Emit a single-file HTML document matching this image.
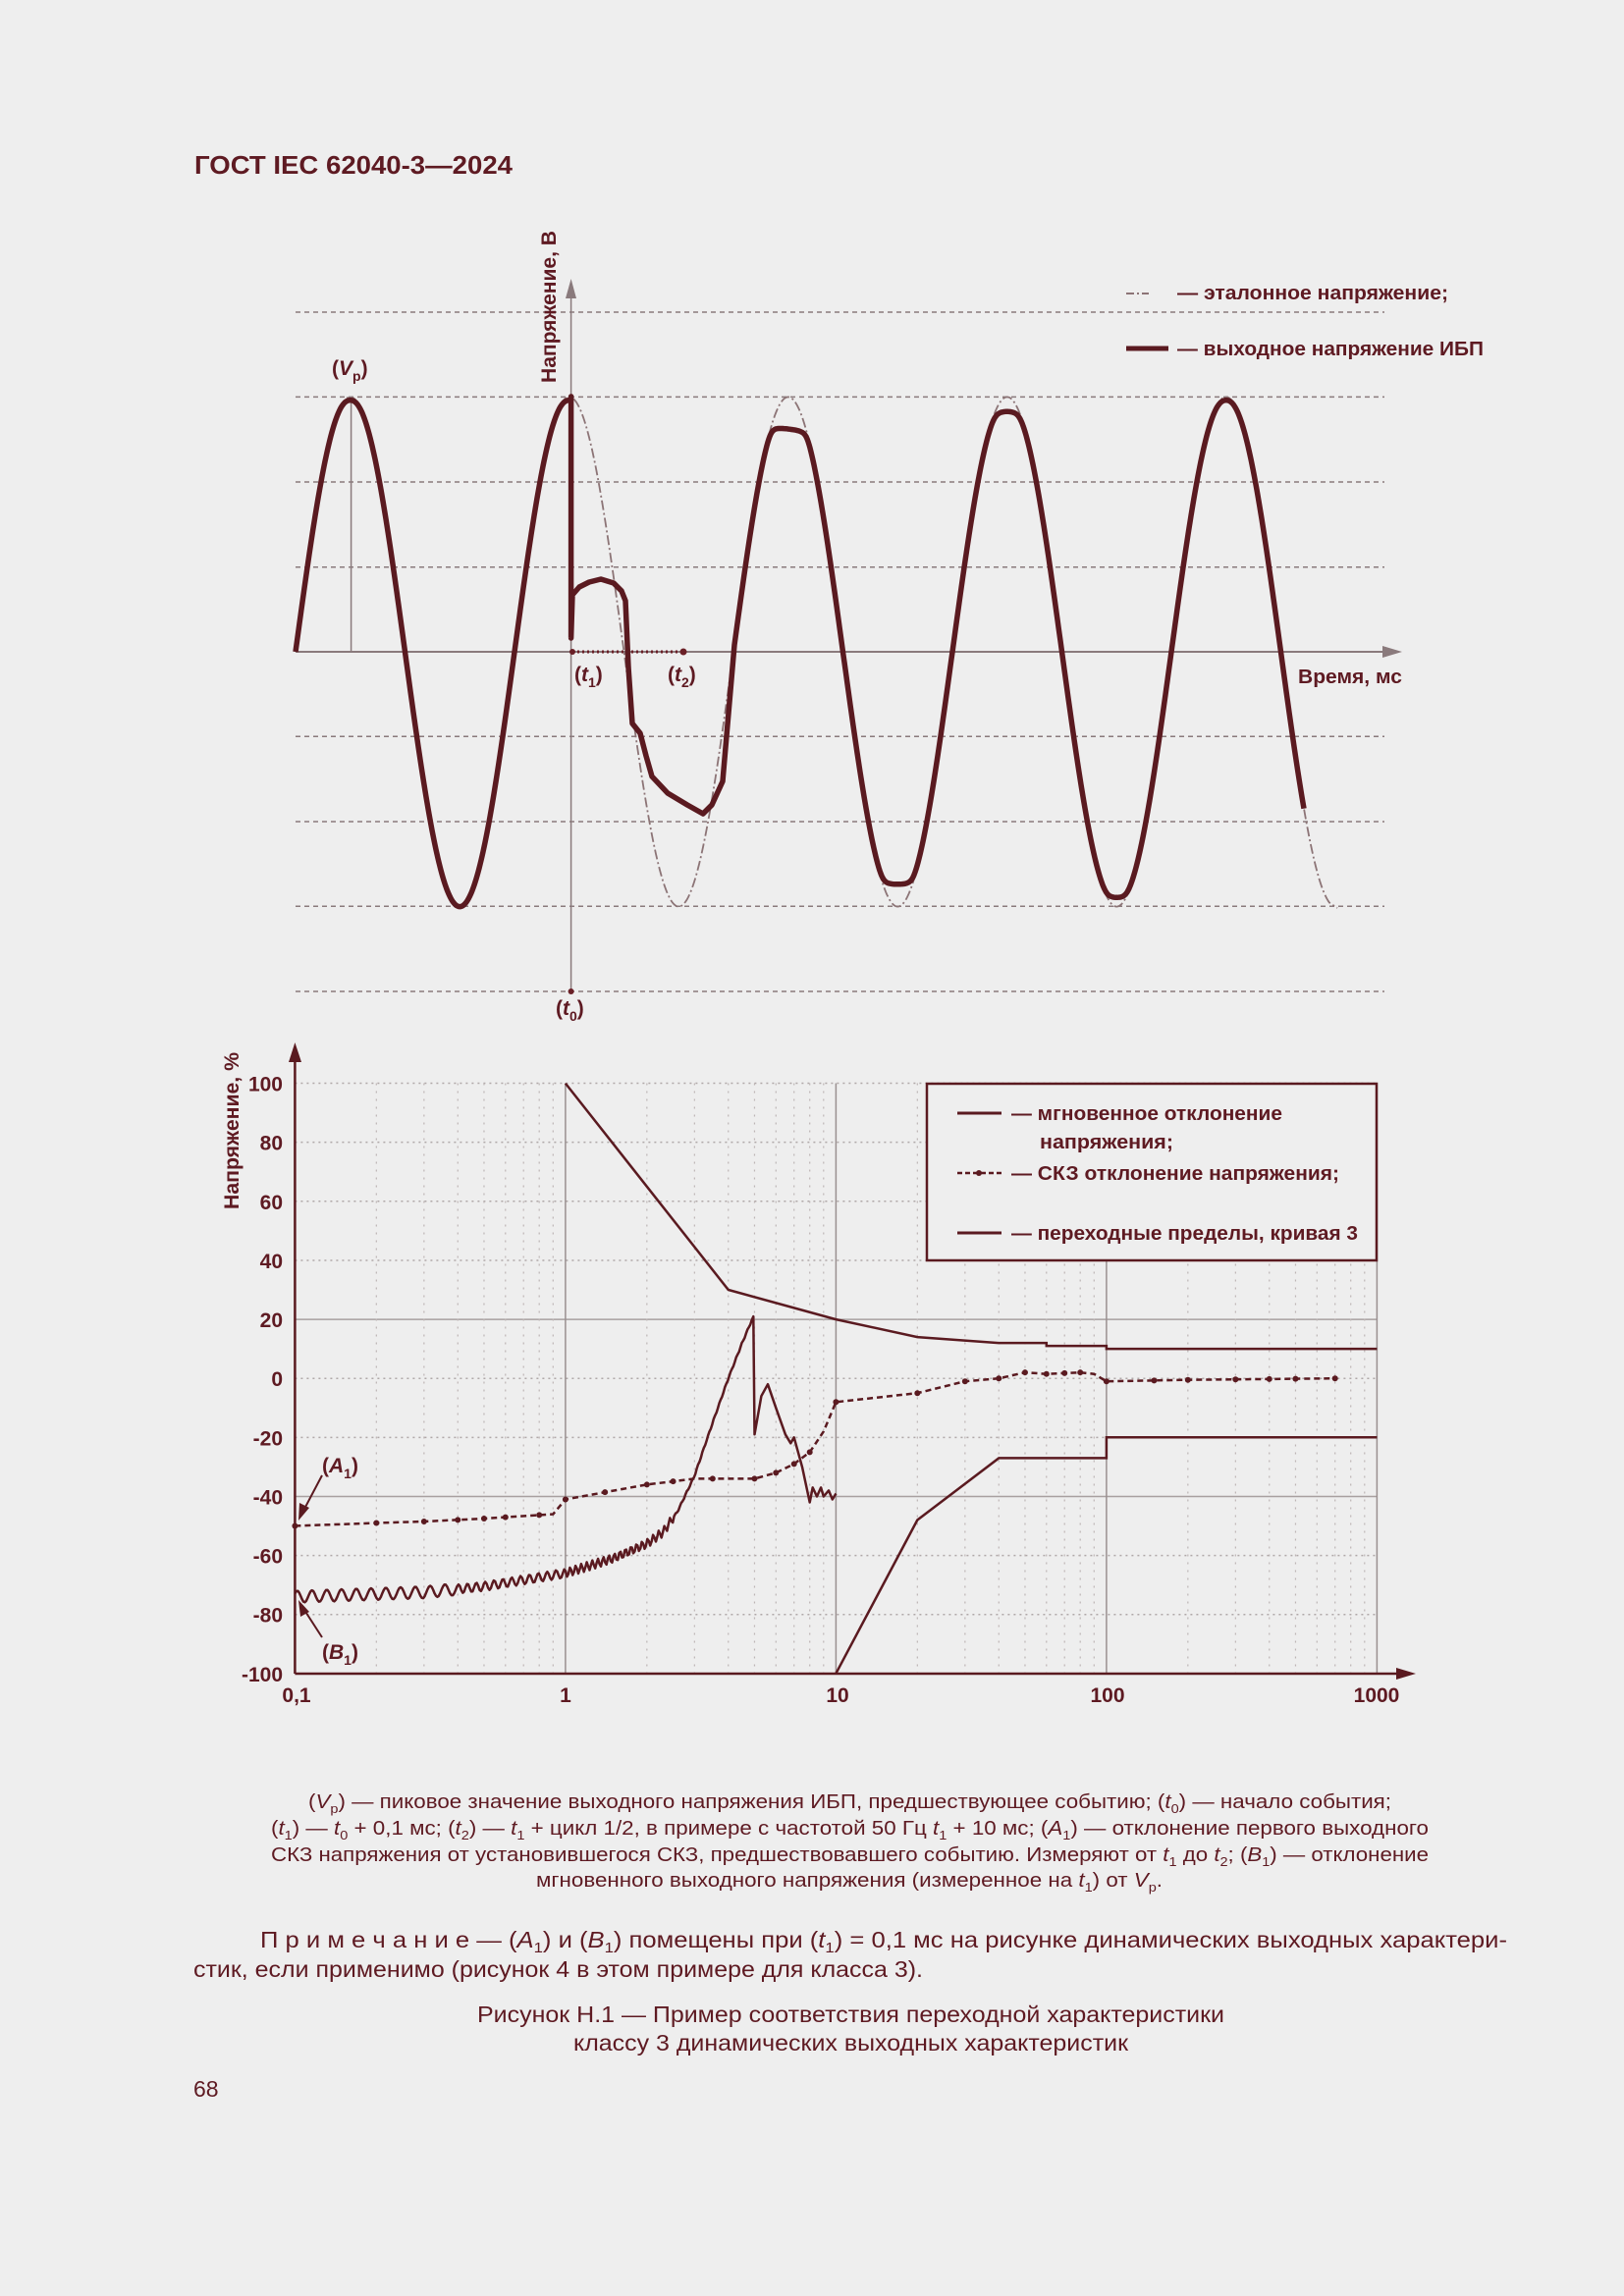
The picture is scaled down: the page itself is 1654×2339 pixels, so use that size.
<!DOCTYPE html>
<html><head><meta charset="utf-8"><style>
html,body{margin:0;padding:0;background:#eeeeee;}
svg{display:block;}
text{font-family:"Liberation Sans",sans-serif;fill:#5e1a22;}
</style></head><body>
<svg id="s" width="1654" height="2339" viewBox="0 0 1654 2339" xmlns="http://www.w3.org/2000/svg">
<rect width="1654" height="2339" fill="#eeeeee"/>
<text x="198" y="177" font-size="26" font-weight="bold" textLength="324" lengthAdjust="spacingAndGlyphs">ГОСТ IEC 62040-3—2024</text>

<!-- TOP CHART -->
<g id="topgrid" stroke="#8a7a7c" stroke-width="1.5" stroke-dasharray="5,4"></g>
<line x1="301" y1="664" x2="1420" y2="664" stroke="#8a7a7c" stroke-width="2"/>
<polygon points="1428,664 1408,658 1408,670" fill="#8a7a7c"/>
<line x1="581.6" y1="300" x2="581.6" y2="1010" stroke="#8a7a7c" stroke-width="1.5"/>
<polygon points="581.6,284 576,304 587,304" fill="#8a7a7c"/>
<line x1="357.6" y1="404" x2="357.6" y2="664" stroke="#8a7a7c" stroke-width="1.5"/>
<line x1="583" y1="664" x2="696" y2="664" stroke="#6a1f26" stroke-width="3" stroke-dasharray="2,3"/>
<circle cx="583" cy="664" r="3" fill="#6a1f26"/><circle cx="696" cy="664" r="3.5" fill="#6a1f26"/>
<circle cx="581.6" cy="1010" r="3" fill="#6a1f26"/>
<path id="ref" fill="none" stroke="#8c7476" stroke-width="1.8" stroke-dasharray="10,3,2,3"/>
<path id="out" fill="none" stroke="#5a1a20" stroke-width="5.5" stroke-linejoin="round"/>
<text x="338" y="382" font-size="21" font-weight="bold">(<tspan font-style="italic">V</tspan><tspan font-size="14" dy="6">p</tspan><tspan dy="-6">)</tspan></text>
<text x="585" y="694" font-size="21" font-weight="bold">(<tspan font-style="italic">t</tspan><tspan font-size="14" dy="6">1</tspan><tspan dy="-6">)</tspan></text>
<text x="680" y="694" font-size="21" font-weight="bold">(<tspan font-style="italic">t</tspan><tspan font-size="14" dy="6">2</tspan><tspan dy="-6">)</tspan></text>
<text x="566" y="1034" font-size="21" font-weight="bold">(<tspan font-style="italic">t</tspan><tspan font-size="14" dy="6">0</tspan><tspan dy="-6">)</tspan></text>
<text x="1322" y="696" font-size="20" font-weight="bold" textLength="106" lengthAdjust="spacingAndGlyphs">Время, мс</text>
<text transform="translate(566,390) rotate(-90)" font-size="21" font-weight="bold" textLength="155" lengthAdjust="spacingAndGlyphs">Напряжение, В</text>
<line x1="1147" y1="299" x2="1170" y2="299" stroke="#8c7476" stroke-width="2" stroke-dasharray="8,3,2,3"/>
<text x="1199" y="305" font-size="20" font-weight="bold" textLength="276" lengthAdjust="spacingAndGlyphs">— эталонное напряжение;</text>
<line x1="1147" y1="355" x2="1190" y2="355" stroke="#5a1a20" stroke-width="5"/>
<text x="1199" y="362" font-size="20" font-weight="bold" textLength="312" lengthAdjust="spacingAndGlyphs">— выходное напряжение ИБП</text>

<!-- BOTTOM CHART -->
<g id="botgrid"></g>
<line x1="300.4" y1="1075" x2="300.4" y2="1705" stroke="#5a1a20" stroke-width="2.5"/>
<polygon points="300.4,1062 294,1082 307,1082" fill="#5a1a20"/>
<line x1="300.4" y1="1705" x2="1425" y2="1705" stroke="#5a1a20" stroke-width="2.5"/>
<polygon points="1442,1705 1422,1699 1422,1711" fill="#5a1a20"/>
<path id="upper" fill="none" stroke="#5a1a20" stroke-width="2.5"/>
<path id="lower" fill="none" stroke="#5a1a20" stroke-width="2.5"/>
<path id="rms" fill="none" stroke="#5a1a20" stroke-width="2.5" stroke-dasharray="6,4"/>
<g id="rmsdots" fill="#5a1a20"></g>
<path id="inst" fill="none" stroke="#5a1a20" stroke-width="2.5" stroke-linejoin="round"/>
<g id="ylabels" font-size="21" font-weight="bold" text-anchor="end"></g>
<g font-size="21" font-weight="bold" text-anchor="middle">
<text x="302" y="1734">0,1</text><text x="576" y="1734">1</text><text x="853" y="1734">10</text><text x="1128" y="1734">100</text><text x="1402" y="1734">1000</text>
</g>
<text transform="translate(243,1232) rotate(-90)" font-size="21" font-weight="bold" textLength="160" lengthAdjust="spacingAndGlyphs">Напряжение, %</text>
<rect x="944" y="1104" width="458" height="180" fill="#eeeeee" stroke="#5a1a20" stroke-width="2.5"/>
<line x1="975" y1="1134" x2="1020" y2="1134" stroke="#5a1a20" stroke-width="3"/>
<text x="1030" y="1141" font-size="20" font-weight="bold" textLength="276" lengthAdjust="spacingAndGlyphs">— мгновенное отклонение</text>
<text x="1059" y="1170" font-size="20" font-weight="bold" textLength="136" lengthAdjust="spacingAndGlyphs">напряжения;</text>
<line x1="975" y1="1195" x2="1020" y2="1195" stroke="#5a1a20" stroke-width="2.5" stroke-dasharray="5,3"/>
<circle cx="997" cy="1195" r="3" fill="#5a1a20"/>
<text x="1030" y="1202" font-size="20" font-weight="bold" textLength="334" lengthAdjust="spacingAndGlyphs">— СКЗ отклонение напряжения;</text>
<line x1="975" y1="1256" x2="1020" y2="1256" stroke="#5a1a20" stroke-width="3"/>
<text x="1030" y="1263" font-size="20" font-weight="bold" textLength="353" lengthAdjust="spacingAndGlyphs">— переходные пределы, кривая 3</text>
<text x="328" y="1500" font-size="21" font-weight="bold">(<tspan font-style="italic">A</tspan><tspan font-size="14" dy="6">1</tspan><tspan dy="-6">)</tspan></text>
<text x="328" y="1690" font-size="21" font-weight="bold">(<tspan font-style="italic">B</tspan><tspan font-size="14" dy="6">1</tspan><tspan dy="-6">)</tspan></text>
<line x1="328" y1="1503" x2="308" y2="1541" stroke="#5a1a20" stroke-width="2"/>
<polygon points="304,1549 305,1531 315,1536" fill="#5a1a20"/>
<line x1="328" y1="1668" x2="308" y2="1637" stroke="#5a1a20" stroke-width="2"/>
<polygon points="304,1630 315,1642 306,1647" fill="#5a1a20"/>

<!-- TEXT -->
<g font-size="20">
<text x="314" y="1842" textLength="1103" lengthAdjust="spacingAndGlyphs">(<tspan font-style="italic">V</tspan><tspan font-size="13" dy="5">p</tspan><tspan dy="-5">) — пиковое значение выходного напряжения ИБП, предшествующее событию; (</tspan><tspan font-style="italic">t</tspan><tspan font-size="13" dy="5">0</tspan><tspan dy="-5">) — начало события;</tspan></text>
<text x="276" y="1869" textLength="1179" lengthAdjust="spacingAndGlyphs">(<tspan font-style="italic">t</tspan><tspan font-size="13" dy="5">1</tspan><tspan dy="-5">) — </tspan><tspan font-style="italic">t</tspan><tspan font-size="13" dy="5">0</tspan><tspan dy="-5"> + 0,1 мс; (</tspan><tspan font-style="italic">t</tspan><tspan font-size="13" dy="5">2</tspan><tspan dy="-5">) — </tspan><tspan font-style="italic">t</tspan><tspan font-size="13" dy="5">1</tspan><tspan dy="-5"> + цикл 1/2, в примере с частотой 50 Гц </tspan><tspan font-style="italic">t</tspan><tspan font-size="13" dy="5">1</tspan><tspan dy="-5"> + 10 мс; (</tspan><tspan font-style="italic">A</tspan><tspan font-size="13" dy="5">1</tspan><tspan dy="-5">) — отклонение первого выходного</tspan></text>
<text x="276" y="1896" textLength="1179" lengthAdjust="spacingAndGlyphs">СКЗ напряжения от установившегося СКЗ, предшествовавшего событию. Измеряют от <tspan font-style="italic">t</tspan><tspan font-size="13" dy="5">1</tspan><tspan dy="-5"> до </tspan><tspan font-style="italic">t</tspan><tspan font-size="13" dy="5">2</tspan><tspan dy="-5">; (</tspan><tspan font-style="italic">B</tspan><tspan font-size="13" dy="5">1</tspan><tspan dy="-5">) — отклонение</tspan></text>
<text x="546" y="1922" textLength="638" lengthAdjust="spacingAndGlyphs">мгновенного выходного напряжения (измеренное на <tspan font-style="italic">t</tspan><tspan font-size="13" dy="5">1</tspan><tspan dy="-5">) от </tspan><tspan font-style="italic">V</tspan><tspan font-size="13" dy="5">p</tspan><tspan dy="-5">.</tspan></text>
</g>
<g font-size="23">
<text x="265" y="1984" textLength="1270" lengthAdjust="spacingAndGlyphs">П р и м е ч а н и е  —  (<tspan font-style="italic">A</tspan><tspan font-size="15" dy="5">1</tspan><tspan dy="-5">) и (</tspan><tspan font-style="italic">B</tspan><tspan font-size="15" dy="5">1</tspan><tspan dy="-5">) помещены при (</tspan><tspan font-style="italic">t</tspan><tspan font-size="15" dy="5">1</tspan><tspan dy="-5">) = 0,1 мс на рисунке динамических выходных характери-</tspan></text>
<text x="197" y="2014" textLength="743" lengthAdjust="spacingAndGlyphs">стик, если применимо (рисунок 4 в этом примере для класса 3).</text>
<text x="486" y="2060" textLength="761" lengthAdjust="spacingAndGlyphs">Рисунок Н.1 — Пример соответствия переходной характеристики</text>
<text x="584" y="2089" textLength="565" lengthAdjust="spacingAndGlyphs">классу 3 динамических выходных характеристик</text>
<text x="197" y="2136">68</text>
</g>
</svg>
<script>
(function(){
var NS="http://www.w3.org/2000/svg";
function el(p,n,a){var e=document.createElementNS(NS,n);for(var k in a)e.setAttribute(k,a[k]);p.appendChild(e);return e;}
var tg=document.getElementById('topgrid');
[318,404.4,491,577.8,750.2,837,923.2,1010].forEach(function(y){el(tg,'line',{x1:301,y1:y,x2:1410,y2:y});});
var y0=664,A=259.6,x0=301,P=223;
function sn(x){return y0-A*Math.sin(2*Math.PI*(x-x0)/P);}
function smax(a,c,k){return (a+c)/2+Math.sqrt((a-c)*(a-c)/4+k*k);}
function smin(a,c,k){return (a+c)/2-Math.sqrt((a-c)*(a-c)/4+k*k);}
var d="M301,664";for(var x=302;x<=1354;x+=1)d+=" L"+x+","+sn(x).toFixed(1);d+=" L1362,925";
document.getElementById('ref').setAttribute('d',d);
var o="M301,664";
for(x=302;x<=581;x+=1)o+=" L"+x+","+smax(sn(x),400,5).toFixed(1);
o+=" L581.6,404 L581.6,650 L583,606 L590,598 L600,593 L612,590 L625,594 L633,602 L637,612 L640,680 L644,737 L652,747 L658,770 L664,791 L680,808 L700,820 L716,829 L725,820 L736,796";
for(x=748;x<=1328;x+=1){var y=sn(x);
 if(x<860)y=smax(y,434+(x>790?(x-790)*0.12:0),7);else if(x<970)y=smin(y,903,7);else if(x<1080)y=smax(y,416,7);else if(x<1195)y=smin(y,917,5);else y=smax(y,400,5);
 o+=" L"+x+","+y.toFixed(1);}
document.getElementById('out').setAttribute('d',o);
function X(t){return 300.4+275.5*Math.log10(t/0.1);}
function Y(v){return 1404.2-v*3.0065;}
var bg=document.getElementById('botgrid');
for(var v=-80;v<=100;v+=20){var solid=(v==20||v==-40);
 el(bg,'line',{x1:300.4,y1:Y(v),x2:1402,y2:Y(v),stroke:solid?'#a8a0a0':'#b0a8a8','stroke-width':1.5,'stroke-dasharray':solid?'':'2,4'});}
for(var dec=0.1;dec<500;dec*=10){for(var k=2;k<=9;k++)el(bg,'line',{x1:X(dec*k),y1:Y(100),x2:X(dec*k),y2:Y(-100),stroke:'#bdb5b5','stroke-width':1.2,'stroke-dasharray':'2,6'});}
[1,10,100,1000].forEach(function(t){el(bg,'line',{x1:X(t),y1:Y(100),x2:X(t),y2:Y(-100),stroke:'#9a9090','stroke-width':1.5});});
var yl=document.getElementById('ylabels');
for(v=-100;v<=100;v+=20){var t=el(yl,'text',{x:288,y:Y(v)+8});t.textContent=String(v);}
function pth(pts){return pts.map(function(p,i){return (i?"L":"M")+X(p[0]).toFixed(1)+","+Y(p[1]).toFixed(1);}).join(" ");}
document.getElementById('upper').setAttribute('d',pth([[1,100],[4,30],[10,20],[20,14],[40,12],[60,12],[60,11],[100,11],[100,10],[1000,10]]));
document.getElementById('lower').setAttribute('d',pth([[10,-100],[20,-48],[40,-27],[100,-27],[100,-20],[1000,-20]]));
var rp=[[0.1,-50],[0.2,-49],[0.3,-48.5],[0.5,-47.5],[0.9,-46],[1,-41],[2,-36],[3,-34],[5,-34],[6,-32],[7,-29],[8,-25],[9,-18],[10,-8],[20,-5],[30,-1],[40,0],[50,2],[60,1.5],[80,2],[90,1.5],[100,-1],[200,-0.5],[700,0]];
document.getElementById('rms').setAttribute('d',pth(rp));
var rd=document.getElementById('rmsdots');
function interp(arr,t){for(var i=1;i<arr.length;i++){if(t<=arr[i][0]){var a=arr[i-1],b=arr[i];var f=(Math.log(t)-Math.log(a[0]))/(Math.log(b[0])-Math.log(a[0])||1);return a[1]+(b[1]-a[1])*f;}}return arr[arr.length-1][1];}
[0.1,0.2,0.3,0.4,0.5,0.6,0.8,1.0,1.4,2,2.5,3.5,5,6,7,8,10,20,30,40,50,60,70,80,100,150,200,300,400,500,700].forEach(function(t){el(rd,'circle',{cx:X(t),cy:Y(interp(rp,t)),r:3});});
var ib=[[0.1,-74],[0.3,-72.5],[0.5,-70.5],[1,-66],[1.5,-61],[2,-56],[2.3,-52],[2.6,-45],[3,-33],[3.5,-15],[4,0],[4.5,12],[4.9,20]];
var pts=[];var ph=0;
for(var lt=Math.log(0.1);lt<=Math.log(4.9);lt+=0.012){var tt=Math.exp(lt);var b=interp(ib,tt);
 var amp=tt<2.5?(tt<0.4?2.0:1.5):0.3;ph+=tt<0.4?0.6:(tt<1?1.0:1.6);b+=amp*Math.sin(ph);pts.push([tt,b]);}
pts=pts.concat([[4.95,21],[5.0,-19],[5.3,-6],[5.6,-2],[6,-10],[6.5,-19],[6.8,-22],[7,-20],[7.5,-30],[8,-42],[8.2,-37],[8.5,-40],[8.8,-37],[9,-40],[9.4,-38],[9.7,-41],[10,-39]]);
document.getElementById('inst').setAttribute('d',pth(pts));
})();
</script>
</body></html>
